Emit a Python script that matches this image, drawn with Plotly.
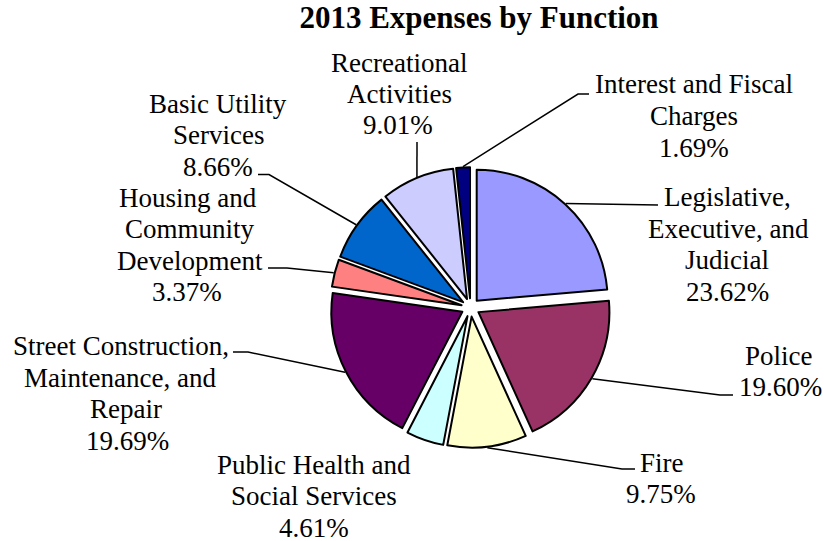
import math
import plotly.graph_objects as go

W, H = 824, 541

# Expense categories (wrapped label lines), shares in percent, slice colours
label_lines = [
    ["Legislative,", "Executive, and", "Judicial"],
    ["Police"],
    ["Fire"],
    ["Public Health and", "Social Services"],
    ["Street Construction,", "Maintenance, and", "Repair"],
    ["Housing and", "Community", "Development"],
    ["Basic Utility", "Services"],
    ["Recreational", "Activities"],
    ["Interest and Fiscal", "Charges"],
]
functions = [" ".join(lines) for lines in label_lines]
shares = [23.62, 19.60, 9.75, 4.61, 19.69, 3.37, 8.66, 9.01, 1.69]
colors = ["#9999FF", "#993366", "#FFFFCC", "#CCFFFF", "#660066",
          "#FF8080", "#0066CC", "#CCCCFF", "#000080"]
pulls = [0.07] * len(shares)

# ---- layout geometry (pixels) ----
CX, CY = 470.5, 307.5          # pie centre
BOX = 280.3                    # square pie domain
FONT = "Liberation Serif, Times New Roman, serif"
LABEL_SIZE = 27
LINE_STEP = 31.5

# centre x of each label line and y of its first line
label_pos = [
    ([727.5, 728, 727, 727], 197),
    ([779, 780], 355.5),
    ([662, 661], 462.5),
    ([314, 314, 314], 464.5),
    ([121, 120, 126, 127.5], 346),
    ([187.5, 190, 190, 186.5], 197.5),
    ([217.5, 218, 217.5], 104),
    ([398.5, 399.5, 398], 62.5),
    ([694, 694, 694], 84.5),
]

# leader-line points from the label side (the slice end is computed)
leader_pts = [
    [(658, 205)],
    [(733, 395), (720, 395)],
    [(635, 469), (622, 469)],
    None,
    [(233, 352), (248, 352)],
    [(268, 268), (287, 268)],
    [(258, 174.5), (269, 174.5)],
    [(417, 142)],
    [(589, 94), (578, 94)],
]


def px(x):
    return x / W


def py(y):
    return 1 - y / H


dom_x = [px(CX - BOX / 2), px(CX + BOX / 2)]
dom_y = [py(CY + BOX / 2), py(CY - BOX / 2)]
R = BOX / (2 + 2 * max(pulls))

fig = go.Figure(
    go.Pie(
        labels=functions,
        values=shares,
        sort=False,
        direction="clockwise",
        rotation=0,
        pull=pulls,
        marker=dict(colors=colors, line=dict(color="black", width=2)),
        textinfo="none",
        hoverinfo="label+percent",
        domain=dict(x=dom_x, y=dom_y),
    )
)

annotations = []
shapes = []
total = sum(shares)
cum = 0.0
for i, share in enumerate(shares):
    mid = 2 * math.pi * (cum + share / 2) / total
    cum += share
    lines = label_lines[i] + [f"{share:.2f}%"]
    xs, y0 = label_pos[i]
    for k, txt in enumerate(lines):
        annotations.append(dict(
            x=px(xs[k]), y=py(y0 + k * LINE_STEP), xref="paper", yref="paper",
            text=txt, showarrow=False, xanchor="center", yanchor="middle",
            font=dict(family=FONT, size=LABEL_SIZE, color="black"),
        ))
    if leader_pts[i]:
        d = R * (1 + pulls[i]) + 1
        end = (CX + d * math.sin(mid), CY - d * math.cos(mid))
        pts = leader_pts[i] + [end]
        path = "M " + " L ".join(f"{px(x):.5f},{py(y):.5f}" for x, y in pts)
        shapes.append(dict(type="path", path=path, xref="paper", yref="paper",
                           line=dict(color="black", width=1.5)))

fig.update_layout(
    width=W, height=H,
    margin=dict(l=0, r=0, t=0, b=0),
    paper_bgcolor="white",
    plot_bgcolor="white",
    showlegend=False,
    title=dict(
        text="<b>2013 Expenses by Function</b>",
        font=dict(family=FONT, size=31, color="black"),
        x=px(479), xanchor="center",
        y=py(17.5), yanchor="middle", yref="container",
    ),
    annotations=annotations,
    shapes=shapes,
)

fig.write_html("out.html")
